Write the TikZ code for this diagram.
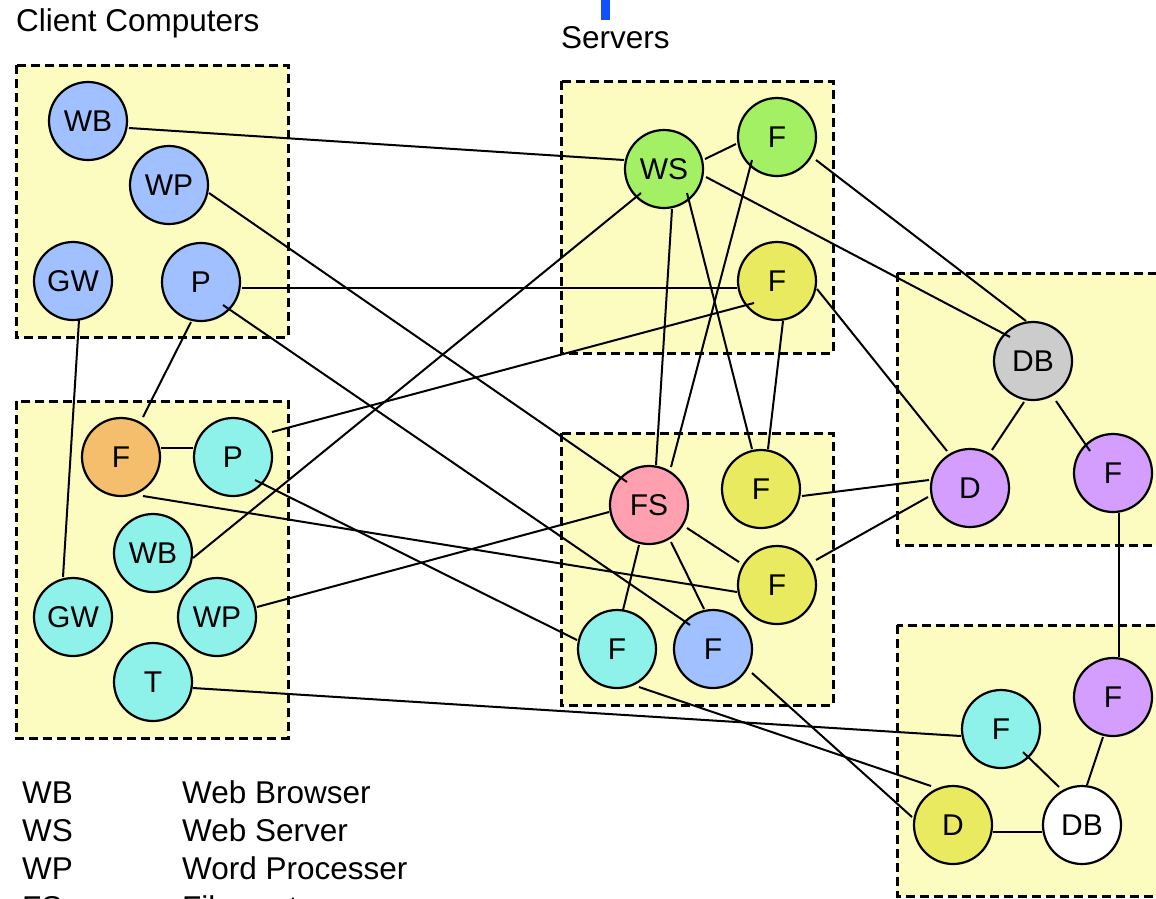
\documentclass[tikz,border=0pt]{standalone}
\usepackage{fontspec}
\setmainfont{Liberation Sans}
\usetikzlibrary{calc}
\definecolor{boxfill}{HTML}{FCFCC0}
\definecolor{blueN}{HTML}{A0C0FF}
\definecolor{cyanN}{HTML}{8EF2EA}
\definecolor{orangeN}{HTML}{F4BE6C}
\definecolor{greenN}{HTML}{A4F064}
\definecolor{yellowN}{HTML}{E9EA60}
\definecolor{pinkN}{HTML}{FFA0B0}
\definecolor{grayN}{HTML}{CCCCCC}
\definecolor{purpleN}{HTML}{D49EFF}
\definecolor{titleblue}{HTML}{1050FF}
\tikzset{
  grp/.style={draw=black, fill=boxfill, line width=3pt, dash pattern=on 9pt off 5pt},
  comp/.style={circle, draw=black, line width=2.2pt, minimum size=78pt, inner sep=0pt, outer sep=0pt,
    font=\fontsize{30}{36}\selectfont},
  conn/.style={draw=black, line width=2pt},
  lbl/.style={anchor=base west, inner sep=0pt, font=\fontsize{31.5}{38}\selectfont},
}
\begin{document}
\begin{tikzpicture}[x=1pt, y=-1pt]
\useasboundingbox (0,0) rectangle (1156,898);
% title remnant
\fill[titleblue] (601,0) rectangle (610,20);
% group boxes
\draw[grp] (16,65) rectangle (288,337);
\draw[grp] (16,401) rectangle (288,738);
\draw[grp] (561,81) rectangle (833,353);
\draw[grp] (561,433) rectangle (833,705);
\draw[grp] (897,273) rectangle (1175,545);
\draw[grp] (897,625) rectangle (1175,896);
% titles
\node[lbl] (tclient) at (16,31) {Client Computers};
\node[lbl] (tserver) at (561,48) {Servers};
% legend
\node[lbl] (lk1) at (22,803) {WB};
\node[lbl] (lv1) at (182,803) {Web Browser};
\node[lbl] (lk2) at (22,841) {WS};
\node[lbl] (lv2) at (182,841) {Web Server};
\node[lbl] (lk3) at (22,879) {WP};
\node[lbl] (lv3) at (182,879) {Word Processer};
\node[lbl] (lk4) at (22,918) {FS};
\node[lbl] (lv4) at (182,918) {File system};
% client computers
\node[comp, fill=blueN] (wb1) at (88,121) {WB};
\node[comp, fill=blueN] (wp1) at (169,185) {WP};
\node[comp, fill=blueN] (gw1) at (73,281) {GW};
\node[comp, fill=blueN] (p1) at (201,282) {P};
\node[comp, fill=orangeN] (fo) at (121,457) {F};
\node[comp, fill=cyanN] (pc) at (233,457) {P};
\node[comp, fill=cyanN] (wbc) at (153,553) {WB};
\node[comp, fill=cyanN] (gwc) at (73,617) {GW};
\node[comp, fill=cyanN] (wpc) at (217,617) {WP};
\node[comp, fill=cyanN] (tc) at (153,682) {T};
% servers
\node[comp, fill=greenN] (ws) at (664,169) {WS};
\node[comp, fill=greenN] (fg) at (777,137) {F};
\node[comp, fill=yellowN] (fy1) at (777,281) {F};
\node[comp, fill=pinkN] (fs) at (649,505) {FS};
\node[comp, fill=yellowN] (fy2) at (761,489) {F};
\node[comp, fill=yellowN] (fy3) at (777,585) {F};
\node[comp, fill=cyanN] (fc) at (617,649) {F};
\node[comp, fill=blueN] (fb) at (713,649) {F};
% right groups
\node[comp, fill=grayN] (db) at (1033,361) {DB};
\node[comp, fill=purpleN] (dp) at (970,488) {D};
\node[comp, fill=purpleN] (fp) at (1113,473) {F};
\node[comp, fill=purpleN] (fp2) at (1113,697) {F};
\node[comp, fill=cyanN] (fcr) at (1001,729) {F};
\node[comp, fill=yellowN] (dy) at (953,825) {D};
\node[comp, fill=white] (dbw) at (1082,825) {DB};
% connectors
\draw[conn] ($(wb1)+(41,7)$) -- ($(ws)+(-40,-9)$);
\draw[conn] ($(wp1)+(40,8)$) -- ($(fs)+(-22,-23)$);
\draw[conn] ($(gw1)+(6,39)$) -- ($(gwc)+(-10,-40)$);
\draw[conn] ($(p1)+(41,6)$) -- ($(fy1)+(-40,7)$);
\draw[conn] ($(p1)+(22,23)$) -- ($(fb)+(-23,-24)$);
\draw[conn] ($(p1)+(-10,40)$) -- ($(fo)+(22,-40)$);
\draw[conn] ($(fo)+(40,-9)$) -- ($(pc)+(-40,-9)$);
\draw[conn] ($(fo)+(22,39)$) -- ($(fy3)+(-40,7)$);
\draw[conn] ($(pc)+(39,-25)$) -- ($(fy1)+(-23,22)$);
\draw[conn] ($(pc)+(22,23)$) -- ($(fc)+(-40,-9)$);
\draw[conn] ($(wbc)+(40,5)$) -- ($(ws)+(-23,24)$);
\draw[conn] ($(wpc)+(40,-10)$) -- ($(fs)+(-40,7)$);
\draw[conn] ($(tc)+(40,6)$) -- ($(fcr)+(-40,7)$);
\draw[conn] ($(ws)+(41,-10)$) -- ($(fg)+(-41,7)$);
\draw[conn] ($(ws)+(42,8)$) -- ($(db)+(-23,-24)$);
\draw[conn] ($(ws)+(8,40)$) -- ($(fs)+(7,-40)$);
\draw[conn] ($(ws)+(23,24)$) -- ($(fy2)+(-9,-40)$);
\draw[conn] ($(fg)+(-25,23)$) -- ($(fs)+(22,-38)$);
\draw[conn] ($(fg)+(39,23)$) -- ($(db)+(-7,-40)$);
\draw[conn] ($(fy1)+(6,40)$) -- ($(fy2)+(7,-40)$);
\draw[conn] ($(fy1)+(40,8)$) -- ($(dp)+(-23,-37)$);
\draw[conn] ($(db)+(-9,41)$) -- ($(dp)+(22,-38)$);
\draw[conn] ($(db)+(23,40)$) -- ($(fp)+(-23,-22)$);
\draw[conn] ($(fp)+(6,40)$) -- ($(fp2)+(6,-40)$);
\draw[conn] ($(fy2)+(41,7)$) -- ($(dp)+(-41,-8)$);
\draw[conn] ($(fy3)+(39,-25)$) -- ($(dp)+(-42,9)$);
\draw[conn] ($(fs)+(38,23)$) -- ($(fy3)+(-38,-23)$);
\draw[conn] ($(fs)+(-10,40)$) -- ($(fc)+(6,-39)$);
\draw[conn] ($(fs)+(22,37)$) -- ($(fb)+(-9,-40)$);
\draw[conn] ($(fc)+(22,38)$) -- ($(dy)+(-22,-39)$);
\draw[conn] ($(fb)+(39,24)$) -- ($(dy)+(-41,-8)$);
\draw[conn] ($(dy)+(40,7)$) -- ($(dbw)+(-40,7)$);
\draw[conn] ($(fcr)+(22,23)$) -- ($(dbw)+(-23,-38)$);
\draw[conn] ($(fp2)+(-10,40)$) -- ($(dbw)+(5,-40)$);
\end{tikzpicture}
\end{document}
